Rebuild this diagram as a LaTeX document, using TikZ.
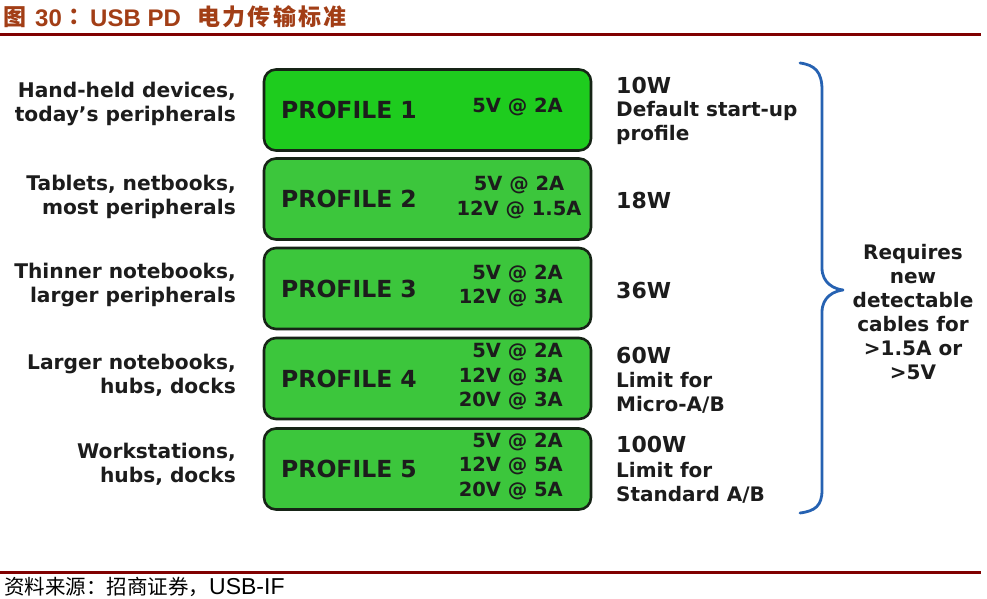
\documentclass[tikz,border=0pt]{standalone}
\usepackage{fontspec}
\setmainfont{DejaVu Sans}
\newfontfamily\lsans{Liberation Sans}
\newfontfamily\cjk{Noto Sans CJK SC}
\definecolor{boxgreenA}{RGB}{30,204,30}
\definecolor{boxgreen}{RGB}{60,198,60}
\definecolor{edgec}{RGB}{22,36,22}
\definecolor{txt}{RGB}{28,28,28}
\definecolor{bracec}{RGB}{38,98,178}
\definecolor{rulec}{RGB}{128,0,0}
\definecolor{titlec}{RGB}{162,62,22}
\tikzset{
  profbox/.style={draw=edgec, line width=2.6pt, rounded corners=12pt, fill=boxgreen,
    minimum width=327pt, minimum height=81pt, inner sep=0pt},
  proflabel/.style={font=\fontsize{23.5}{24}\selectfont\bfseries, text=txt, anchor=west, inner sep=0pt},
  volt/.style={font=\fontsize{19.5}{24.5}\selectfont\bfseries, text=txt, align=right, anchor=east, inner sep=0pt},
  voltc/.style={font=\fontsize{19.5}{24.5}\selectfont\bfseries, text=txt, align=center, inner sep=0pt},
  lefttext/.style={font=\fontsize{20.2}{24}\selectfont\bfseries, text=txt, align=right, anchor=east, inner sep=0pt},
  watt/.style={font=\fontsize{22}{24}\selectfont\bfseries, text=txt, anchor=west, inner sep=0pt},
  notetext/.style={font=\fontsize{20}{24}\selectfont\bfseries, text=txt, align=left, anchor=west, inner sep=0pt},
  reqtext/.style={font=\fontsize{20}{24}\selectfont\bfseries, text=txt, align=center, inner sep=0pt},
  bracepath/.style={draw=bracec, line width=2.8pt, line cap=round, line join=round},
  rulepath/.style={draw=rulec, line width=3pt},
  titlecjk/.style={font=\cjk\bfseries\fontsize{23}{26}\selectfont, text=titlec, anchor=west, inner sep=0pt},
  titlelat/.style={font=\lsans\bfseries\fontsize{24}{26}\selectfont, text=titlec, anchor=west, inner sep=0pt},
  srctext/.style={font=\cjk\fontsize{20.5}{22}\selectfont, text=black, anchor=west, inner sep=0pt}
}
\newcommand{\tsp}{\hspace{2.3pt}}
\begin{document}
\begin{tikzpicture}[x=1pt, y=-1pt]
\useasboundingbox[fill=white] (0,0) rectangle (987,599);

% title
\node[titlecjk] (t1) at (3,17) {图};
\node[titlelat] (t2) at (35,18) {30};
\node[titlecjk] (t3) at (68,17) {：};
\node[titlelat] (t4) at (90,18) {USB PD};
\node[titlecjk] (t5) at (197,17) {电\tsp 力\tsp 传\tsp 输\tsp 标\tsp 准};
\coordinate (r1a) at (0,34.5);
\coordinate (r1b) at (981,34.5);
\draw[rulepath] (r1a) -- (r1b);

% profile boxes
\node[profbox, fill=boxgreenA] (p1) at (427.5,110) {};
\node[profbox] (p2) at (427.5,199) {};
\node[profbox] (p3) at (427.5,288.5) {};
\node[profbox] (p4) at (427.5,378.5) {};
\node[profbox] (p5) at (427.5,469) {};

\node[proflabel] (l1) at (281,110) {PROFILE 1};
\node[proflabel] (l2) at (281,199) {PROFILE 2};
\node[proflabel] (l3) at (281,289) {PROFILE 3};
\node[proflabel] (l4) at (281,379) {PROFILE 4};
\node[proflabel] (l5) at (281,469) {PROFILE 5};

\node[volt] (v1) at (563,107) {5V @ 2A};
\node[voltc] (v2) at (519,197.5) {5V @ 2A\\12V @ 1.5A};
\node[volt] (v3) at (563,286) {5V @ 2A\\12V @ 3A};
\node[volt] (v4) at (563,376.5) {5V @ 2A\\12V @ 3A\\20V @ 3A};
\node[volt] (v5) at (563,466) {5V @ 2A\\12V @ 5A\\20V @ 5A};

% left descriptions
\node[lefttext] (d1) at (236,104) {Hand-held devices,\\today’s peripherals};
\node[lefttext] (d2) at (236,197) {Tablets, netbooks,\\most peripherals};
\node[lefttext] (d3) at (236,285) {Thinner notebooks,\\larger peripherals};
\node[lefttext] (d4) at (236,375) {Larger notebooks,\\hubs, docks};
\node[lefttext] (d5) at (236,464) {Workstations,\\hubs, docks};

% right power text
\node[watt] (w1) at (616,85) {10W};
\node[notetext] (n1) at (616,123) {Default start-up\\profile};
\node[watt] (w2) at (616,200) {18W};
\node[watt] (w3) at (616,290) {36W};
\node[watt] (w4) at (616,355) {60W};
\node[notetext] (n4) at (616,393) {Limit for\\Micro-A/B};
\node[watt] (w5) at (616,444) {100W};
\node[notetext] (n5) at (616,483) {Limit for\\Standard A/B};

% brace
\coordinate (btop) at (800,63);
\coordinate (btip) at (843,290);
\coordinate (bbot) at (800,513);
\draw[bracepath] (btop) .. controls (815,65) and (822,72) .. (822,90)
  -- (822,268) .. controls (822,283) and (834,289) .. (btip)
  .. controls (834,291) and (822,297) .. (822,312)
  -- (822,490) .. controls (822,506) and (815,511) .. (bbot);
\node[reqtext] (req) at (913,312) {Requires\\new\\detectable\\cables for\\>1.5A or\\>5V};

% bottom rule and source
\coordinate (r2a) at (0,572);
\coordinate (r2b) at (981,572);
\draw[rulepath] (r2a) -- (r2b);
\node[srctext] (src) at (4,587) {资料来源：招商证券，{\lsans\fontsize{23}{24}\selectfont USB-IF}};
\end{tikzpicture}
\end{document}
